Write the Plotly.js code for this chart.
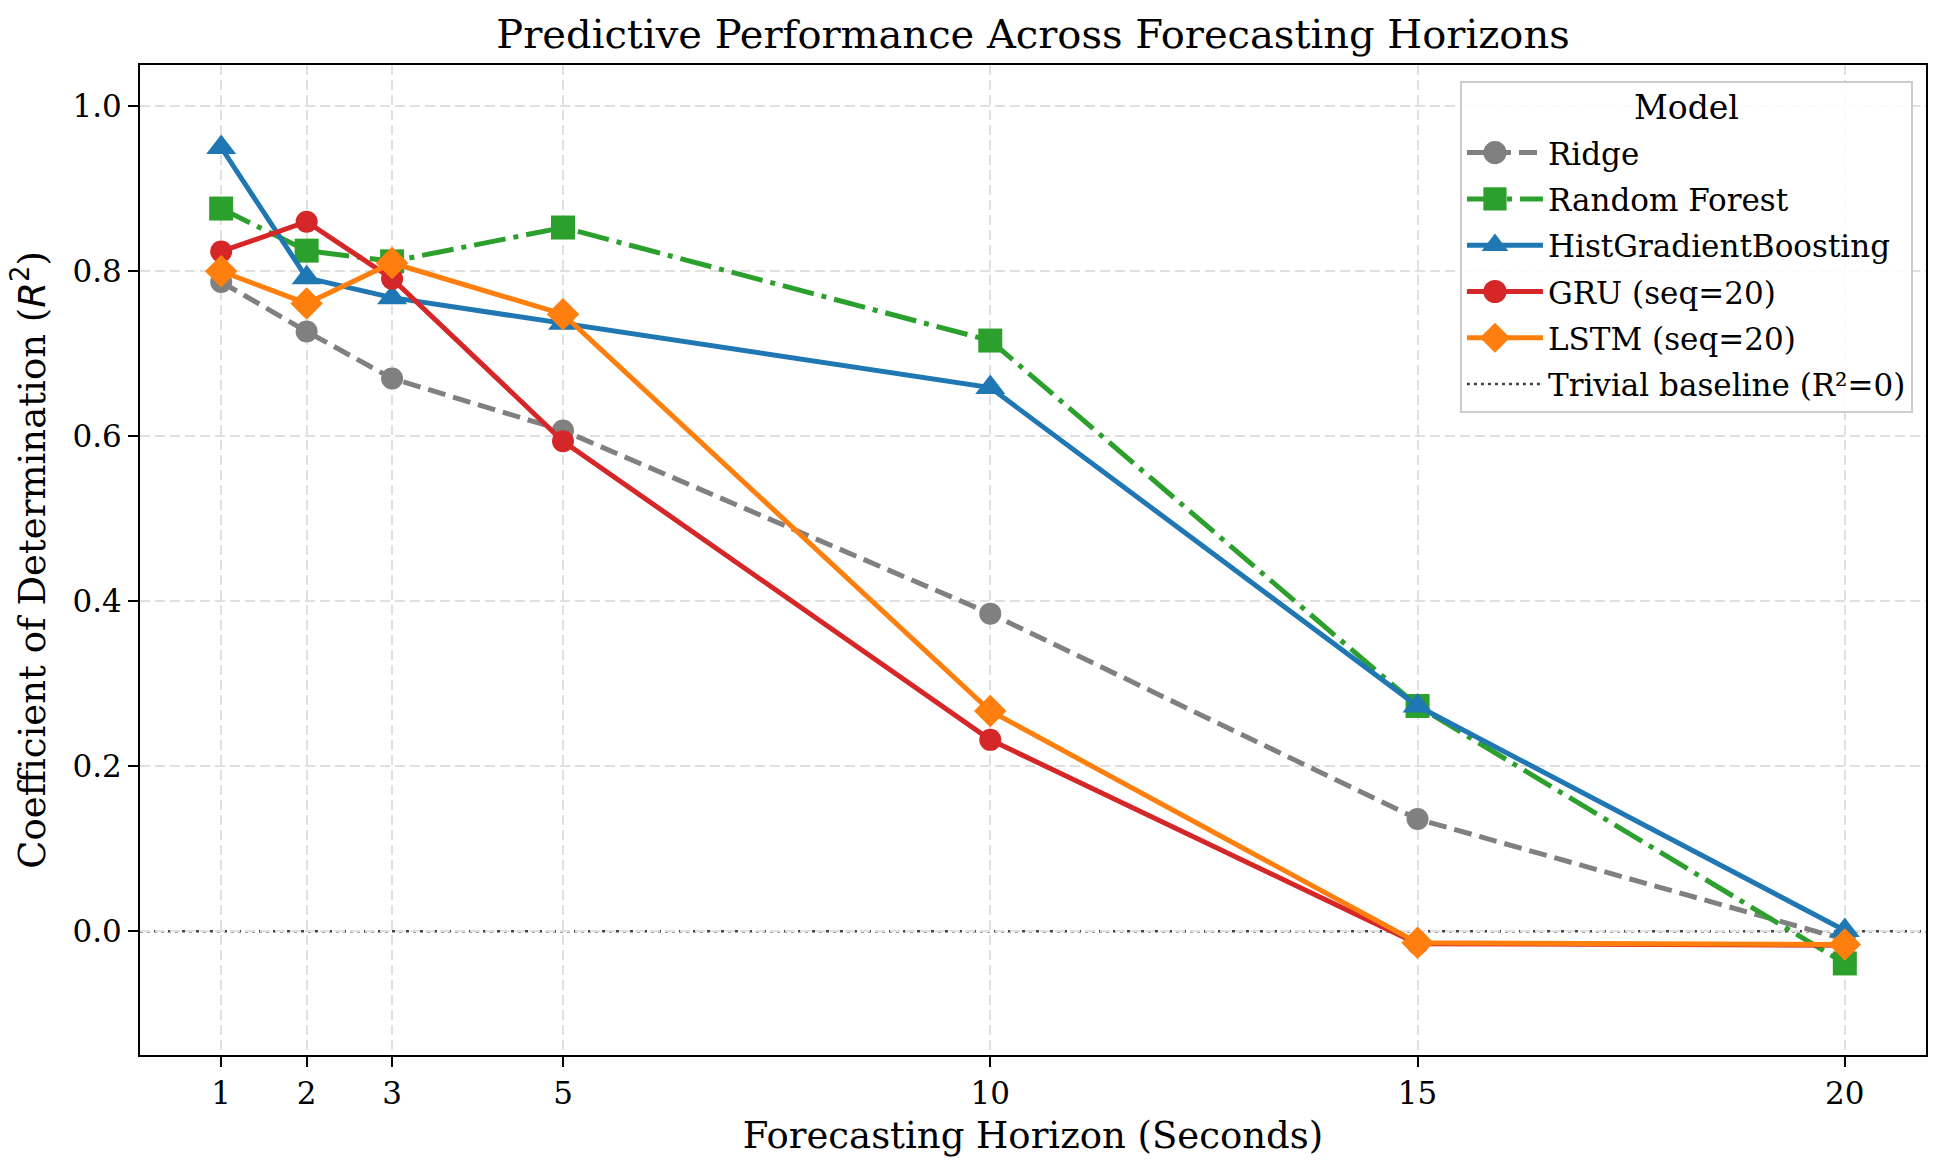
<!DOCTYPE html>
<html>
<head>
<meta charset="utf-8">
<script src="https://cdn.plot.ly/plotly-3.0.1.min.js"></script>
<style>
  html, body { margin: 0; padding: 0; background: #fff; }
</style>
</head>
<body>
<div id="plotly" style="width:1945px;height:1172px;"></div>
<script>
const horizons = [1, 2, 3, 5, 10, 15, 20];
const ridge = [0.787, 0.727, 0.670, 0.607, 0.385, 0.136, -0.010];
const randomForest = [0.876, 0.825, 0.812, 0.853, 0.716, 0.273, -0.039];
const histGB = [0.950, 0.792, 0.768, 0.737, 0.659, 0.273, 0.001];
const gru = [0.824, 0.860, 0.791, 0.594, 0.232, -0.015, -0.017];
const lstm = [0.800, 0.761, 0.810, 0.748, 0.267, -0.014, -0.016];
const yTicks = [0.0, 0.2, 0.4, 0.6, 0.8, 1.0];
const baselineValue = 0;

const serif = 'DejaVu Serif, serif';
const lw = 5;

function series(name, y, color, symbol, size, dash, group) {
  return {
    type: 'scatter',
    mode: 'lines+markers',
    name: name,
    legendgroup: group,
    x: horizons,
    y: y,
    line: { color: color, width: lw, dash: dash },
    marker: { color: color, symbol: symbol, size: size, line: { width: 0 } }
  };
}

const data = [
  series('Ridge', ridge, '#808080', 'circle', 22, '18px,8px', 'g1'),
  series('Random Forest', randomForest, '#2ca02c', 'square', 24, '32px,8px,5px,8px', 'g2'),
  series('HistGradientBoosting', histGB, '#1f77b4', 'triangle-up', 26, 'solid', 'g3'),
  series('GRU (seq=20)', gru, '#d62728', 'circle', 22, 'solid', 'g4'),
  series('LSTM (seq=20)', lstm, '#ff7f0e', 'diamond', 25, 'solid', 'g5')
];

const layout = {
  width: 1945,
  height: 1172,
  paper_bgcolor: '#fff',
  plot_bgcolor: '#fff',
  margin: { l: 140, r: 19, t: 65, b: 117 },
  font: { family: serif, size: 31, color: '#000' },
  title: {
    text: 'Predictive Performance Across Forecasting Horizons',
    font: { family: serif, size: 40, color: '#000' },
    xref: 'paper', x: 0.5, xanchor: 'center',
    yref: 'container', y: 0.971, yanchor: 'middle'
  },
  xaxis: {
    range: [0.05, 20.95],
    tickmode: 'array',
    tickvals: horizons,
    ticktext: horizons.map(String),
    ticks: 'outside', ticklen: 10, tickwidth: 2, tickcolor: '#000',
    showline: true, linecolor: '#000', linewidth: 2, mirror: true,
    showgrid: true, gridcolor: '#e0e0e0', gridwidth: 2, griddash: '10px,5px',
    zeroline: false,
    tickfont: { family: serif, size: 31 },
    title: { text: 'Forecasting Horizon (Seconds)', font: { family: serif, size: 37 }, standoff: 12 }
  },
  yaxis: {
    range: [-0.15, 1.05],
    tickmode: 'array',
    tickvals: yTicks,
    ticktext: yTicks.map(v => v.toFixed(1)),
    ticks: 'outside', ticklen: 10, tickwidth: 2, tickcolor: '#000',
    showline: true, linecolor: '#000', linewidth: 2, mirror: true,
    showgrid: true, gridcolor: '#e0e0e0', gridwidth: 2, griddash: '10px,5px',
    zeroline: false,
    tickfont: { family: serif, size: 31 },
    title: {
      text: 'Coefficient of Determination (<span style="font-family:DejaVu Sans"><i>R</i><sup>2</sup></span>)',
      font: { family: serif, size: 37 },
      standoff: 16
    }
  },
  shapes: [{
    type: 'line',
    xref: 'paper', x0: 0, x1: 1,
    yref: 'y', y0: baselineValue, y1: baselineValue,
    line: { color: '#444444', width: 2.5, dash: '3px,4px' },
    layer: 'between',
    name: 'Trivial baseline (R²=0)',
    showlegend: true,
    legendgroup: 'g6'
  }],
  legend: {
    x: 0.9927, xanchor: 'right',
    y: 0.9838, yanchor: 'top',
    bgcolor: 'rgba(255,255,255,0.85)',
    bordercolor: '#cccccc', borderwidth: 2,
    font: { family: serif, size: 31, color: '#000' },
    title: { text: 'Model', side: 'top center', font: { family: serif, size: 33, color: '#000' } },
    tracegroupgap: 3,
    itemwidth: 76
  },
  showlegend: true
};

const options = { displayModeBar: false, staticPlot: true };

const gd = document.getElementById('plotly');
Plotly.newPlot(gd, data, layout, options).then(() => {
  // stretch legend handles and enlarge their markers, matplotlib style
  gd.querySelectorAll('.legend .traces').forEach(tr => {
    tr.querySelectorAll('path').forEach(p => {
      const d = p.getAttribute('d') || '';
      if (/^M5,0h30/.test(d)) p.setAttribute('d', 'M0,0h66');
    });
    tr.querySelectorAll('.legendpoints path.scatterpts').forEach(p => {
      p.setAttribute('transform', 'translate(33,0) scale(1.45)');
    });
  });
  const lt = gd.querySelector('.legend .legendtitletext');
  if (lt) lt.setAttribute('transform', 'translate(0,-7)');
});
</script>
</body>
</html>
